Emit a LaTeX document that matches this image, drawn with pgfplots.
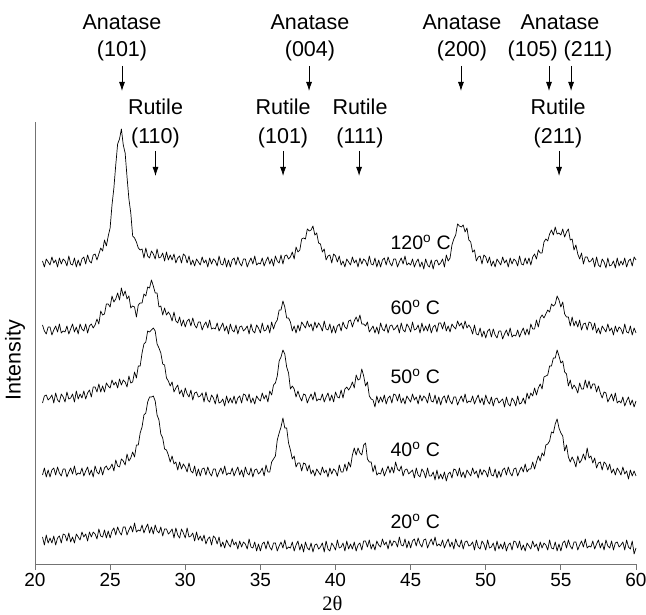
\documentclass[border=0pt]{standalone}
\usepackage{fontspec}
\setmainfont{Liberation Sans}
\newfontfamily\seriffont{Liberation Serif}
\usepackage{pgfplots}
\pgfplotsset{compat=1.18}
\usetikzlibrary{arrows.meta}

\newcommand{\lbl}{\fontsize{21.5}{25}\selectfont}
\newcommand{\tmp}{\fontsize{19.5}{23}\selectfont}
\newcommand{\tck}{\fontsize{19}{22}\selectfont}
\tikzset{pk/.style={-{Latex[length=9pt,width=6pt]}, line width=0.8pt}}
\pgfplotsset{trace/.style={black, mark=none, line width=0.7pt, line join=round}}

\begin{document}
\begin{tikzpicture}
\useasboundingbox (0,0) rectangle (646pt,615pt);
\begin{axis}[
    at={(35pt,51pt)}, anchor=south west,
    scale only axis, width=601pt, height=442pt,
    xmin=20, xmax=60, ymin=0, ymax=442,
    axis x line=bottom, axis y line=left,
    axis line style={-, black!55, line width=0.8pt},
    xtick={20,25,...,60}, ytick=\empty,
    tick align=outside, major tick length=6pt,
    tick style={black!55, line width=0.8pt},
    xticklabel style={font=\tck, /pgf/number format/assume math mode=true},
    clip=false,
]
% 120 C
\addplot[trace] coordinates {
(20.5,303)(20.625,297)(20.75,305)(20.875,302)
(21,299)(21.125,307)(21.25,301)(21.375,304)(21.5,297)(21.625,306)(21.75,300)(21.875,305)
(22,303)(22.125,298)(22.25,308)(22.375,300)(22.5,299)(22.625,306)(22.75,297)(22.875,304)
(23,298)(23.125,305)(23.25,307)(23.375,300)(23.5,309)(23.625,303)(23.75,301)(23.875,309)
(24,310)(24.125,304)(24.25,310)(24.375,316)(24.5,313)(24.625,324)(24.75,318)(24.875,328)
(25,336)(25.125,359)(25.25,376)(25.375,399)(25.5,420)(25.625,425)(25.75,435)(25.875,419)
(26,411)(26.125,387)(26.25,365)(26.375,351)(26.5,328)(26.625,326)(26.75,322)(26.875,316)
(27,314)(27.125,315)(27.25,306)(27.375,316)(27.5,308)(27.625,306)(27.75,313)(27.875,310)
(28,305)(28.125,315)(28.25,306)(28.375,307)(28.5,311)(28.625,303)(28.75,312)(28.875,304)
(29,309)(29.125,304)(29.25,310)(29.375,301)(29.5,306)(29.625,308)(29.75,301)(29.875,310)
(30,308)(30.125,301)(30.25,308)(30.375,299)(30.5,304)(30.625,298)(30.75,305)(30.875,302)
(31,299)(31.125,307)(31.25,301)(31.375,304)(31.5,297)(31.625,306)(31.75,300)(31.875,305)
(32,303)(32.125,298)(32.25,308)(32.375,300)(32.5,299)(32.625,306)(32.75,297)(32.875,304)
(33,297)(33.125,304)(33.25,306)(33.375,299)(33.5,307)(33.625,301)(33.75,298)(33.875,305)
(34,305)(34.125,297)(34.25,302)(34.375,306)(34.5,300)(34.625,308)(34.75,299)(34.875,301)
(35,300)(35.125,306)(35.25,298)(35.375,303)(35.5,307)(35.625,300)(35.75,305)(35.875,298)
(36,308)(36.125,303)(36.25,301)(36.375,309)(36.5,300)(36.625,308)(36.75,309)(36.875,305)
(37,307)(37.125,312)(37.25,305)(37.375,317)(37.5,312)(37.625,314)(37.75,325)(37.875,326)
(38,325)(38.125,335)(38.25,333)(38.375,334)(38.5,338)(38.625,329)(38.75,331)(38.875,321)
(39,320)(39.125,312)(39.25,315)(39.375,304)(39.5,308)(39.625,309)(39.75,301)(39.875,310)
(40,308)(40.125,302)(40.25,308)(40.375,299)(40.5,303)(40.625,297)(40.75,305)(40.875,302)
(41,299)(41.125,307)(41.25,301)(41.375,304)(41.5,297)(41.625,306)(41.75,300)(41.875,305)
(42,303)(42.125,298)(42.25,308)(42.375,300)(42.5,299)(42.625,306)(42.75,297)(42.875,304)
(43,297)(43.125,304)(43.25,306)(43.375,299)(43.5,307)(43.625,301)(43.75,298)(43.875,305)
(44,305)(44.125,297)(44.25,302)(44.375,306)(44.5,300)(44.625,308)(44.75,299)(44.875,301)
(45,299)(45.125,305)(45.25,297)(45.375,302)(45.5,305)(45.625,297)(45.75,302)(45.875,295)
(46,305)(46.125,299)(46.25,297)(46.375,304)(46.5,295)(46.625,303)(46.75,304)(46.875,299)
(47,301)(47.125,305)(47.25,297)(47.375,309)(47.5,303)(47.625,306)(47.75,319)(47.875,325)
(48,329)(48.125,340)(48.25,338)(48.375,337)(48.5,339)(48.625,332)(48.75,336)(48.875,324)
(49,322)(49.125,312)(49.25,314)(49.375,303)(49.5,307)(49.625,308)(49.75,300)(49.875,309)
(50,307)(50.125,301)(50.25,307)(50.375,298)(50.5,303)(50.625,297)(50.75,305)(50.875,302)
(51,299)(51.125,307)(51.25,301)(51.375,304)(51.5,297)(51.625,306)(51.75,300)(51.875,305)
(52,303)(52.125,298)(52.25,308)(52.375,300)(52.5,299)(52.625,306)(52.75,300)(52.875,306)
(53,299)(53.125,307)(53.25,310)(53.375,305)(53.5,314)(53.625,311)(53.75,311)(53.875,322)
(54,325)(54.125,323)(54.25,330)(54.375,334)(54.5,329)(54.625,337)(54.75,330)(54.875,331)
(55,329)(55.125,335)(55.25,327)(55.375,332)(55.5,335)(55.625,324)(55.75,325)(55.875,314)
(56,319)(56.125,310)(56.25,305)(56.375,311)(56.5,300)(56.625,307)(56.75,307)(56.875,302)
(57,303)(57.125,306)(57.25,297)(57.375,307)(57.5,299)(57.625,297)(57.75,305)(57.875,302)
(58,296)(58.125,306)(58.25,298)(58.375,299)(58.5,303)(58.625,296)(58.75,306)(58.875,298)
(59,303)(59.125,299)(59.25,306)(59.375,297)(59.5,303)(59.625,305)(59.75,298)(59.875,307)
(60,304)
};
% 60 C
\addplot[trace] coordinates {
(20.5,239)(20.625,233)(20.75,230)(20.875,237)
(21,237)(21.125,229)(21.25,234)(21.375,238)(21.5,232)(21.625,240)(21.75,231)(21.875,233)
(22,232)(22.125,238)(22.25,230)(22.375,235)(22.5,240)(22.625,232)(22.75,237)(22.875,230)
(23,240)(23.125,235)(23.25,233)(23.375,240)(23.5,231)(23.625,238)(23.75,240)(23.875,236)
(24,239)(24.125,245)(24.25,240)(24.375,253)(24.5,249)(24.625,250)(24.75,260)(24.875,260)
(25,257)(25.125,268)(25.25,262)(25.375,265)(25.5,271)(25.625,264)(25.75,276)(25.875,268)
(26,273)(26.125,265)(26.25,268)(26.375,256)(26.5,258)(26.625,257)(26.75,247)(26.875,259)
(27,261)(27.125,261)(27.25,270)(27.375,268)(27.5,277)(27.625,276)(27.75,284)(27.875,278)
(28,271)(28.125,271)(28.25,257)(28.375,258)(28.5,249)(28.625,256)(28.75,249)(28.875,252)
(29,249)(29.125,243)(29.25,252)(29.375,243)(29.5,241)(29.625,247)(29.75,238)(29.875,244)
(30,237)(30.125,243)(30.25,245)(30.375,238)(30.5,246)(30.625,239)(30.75,236)(30.875,242)
(31,242)(31.125,234)(31.25,239)(31.375,242)(31.5,236)(31.625,244)(31.75,235)(31.875,236)
(32,235)(32.125,241)(32.25,233)(32.375,237)(32.5,241)(32.625,233)(32.75,238)(32.875,230)
(33,240)(33.125,234)(33.25,232)(33.375,239)(33.5,230)(33.625,237)(33.75,238)(33.875,233)
(34,235)(34.125,238)(34.25,230)(34.375,240)(34.5,233)(34.625,231)(34.75,239)(34.875,236)
(35,231)(35.125,241)(35.25,233)(35.375,234)(35.5,239)(35.625,231)(35.75,242)(35.875,235)
(36,241)(36.125,244)(36.25,254)(36.375,254)(36.5,263)(36.625,257)(36.75,246)(36.875,246)
(37,242)(37.125,233)(37.25,238)(37.375,231)(37.5,239)(37.625,233)(37.75,242)(37.875,239)
(38,236)(38.125,243)(38.25,237)(38.375,240)(38.5,233)(38.625,242)(38.75,236)(38.875,241)
(39,238)(39.125,233)(39.25,243)(39.375,235)(39.5,234)(39.625,240)(39.75,231)(39.875,238)
(40,231)(40.125,238)(40.25,240)(40.375,233)(40.5,242)(40.625,237)(40.75,235)(40.875,243)
(41,244)(41.125,237)(41.25,243)(41.375,247)(41.5,242)(41.625,249)(41.75,240)(41.875,240)
(42,238)(42.125,242)(42.25,232)(42.375,235)(42.5,238)(42.625,231)(42.75,237)(42.875,230)
(43,241)(43.125,235)(43.25,233)(43.375,240)(43.5,231)(43.625,238)(43.75,239)(43.875,234)
(44,236)(44.125,239)(44.25,231)(44.375,241)(44.5,234)(44.625,232)(44.75,240)(44.875,237)
(45,232)(45.125,242)(45.25,234)(45.375,235)(45.5,239)(45.625,231)(45.75,241)(45.875,233)
(46,238)(46.125,233)(46.25,240)(46.375,231)(46.5,237)(46.625,239)(46.75,232)(46.875,241)
(47,241)(47.125,235)(47.25,242)(47.375,233)(47.5,238)(47.625,232)(47.75,240)(47.875,237)
(48,235)(48.125,243)(48.25,238)(48.375,241)(48.5,235)(48.625,243)(48.75,236)(48.875,239)
(49,236)(49.125,230)(49.25,239)(49.375,230)(49.5,229)(49.625,236)(49.75,227)(49.875,233)
(50,226)(50.125,233)(50.25,235)(50.375,227)(50.5,235)(50.625,229)(50.75,226)(50.875,233)
(51,233)(51.125,225)(51.25,230)(51.375,234)(51.5,228)(51.625,236)(51.75,227)(51.875,229)
(52,228)(52.125,234)(52.25,227)(52.375,232)(52.5,236)(52.625,229)(52.75,235)(52.875,229)
(53,240)(53.125,235)(53.25,235)(53.375,244)(53.5,237)(53.625,246)(53.75,249)(53.875,246)
(54,250)(54.125,254)(54.25,252)(54.375,260)(54.5,258)(54.625,260)(54.75,268)(54.875,264)
(55,257)(55.125,262)(55.25,250)(55.375,247)(55.5,247)(55.625,238)(55.75,247)(55.875,238)
(56,243)(56.125,237)(56.25,244)(56.375,234)(56.5,240)(56.625,241)(56.75,234)(56.875,242)
(57,241)(57.125,234)(57.25,241)(57.375,231)(57.5,236)(57.625,230)(57.75,238)(57.875,235)
(58,232)(58.125,240)(58.25,233)(58.375,236)(58.5,229)(58.625,238)(58.75,232)(58.875,237)
(59,235)(59.125,230)(59.25,240)(59.375,232)(59.5,231)(59.625,238)(59.75,229)(59.875,236)
(60,231)
};
% 50 C
\addplot[trace] coordinates {
(20.5,161)(20.625,168)(20.75,169)(20.875,164)
(21,166)(21.125,169)(21.25,161)(21.375,171)(21.5,164)(21.625,162)(21.75,170)(21.875,167)
(22,162)(22.125,172)(22.25,165)(22.375,166)(22.5,170)(22.625,162)(22.75,173)(22.875,165)
(23,170)(23.125,166)(23.25,173)(23.375,165)(23.5,171)(23.625,174)(23.75,167)(23.875,177)
(24,177)(24.125,172)(24.25,180)(24.375,172)(24.5,178)(24.625,172)(24.75,181)(24.875,178)
(25,176)(25.125,184)(25.25,179)(25.375,182)(25.5,176)(25.625,185)(25.75,179)(25.875,184)
(26,182)(26.125,177)(26.25,188)(26.375,181)(26.5,182)(26.625,192)(26.75,186)(26.875,198)
(27,198)(27.125,211)(27.25,220)(27.375,222)(27.5,233)(27.625,232)(27.75,234)(27.875,236)
(28,233)(28.125,220)(28.25,216)(28.375,211)(28.5,200)(28.625,199)(28.75,186)(28.875,183)
(29,178)(29.125,182)(29.25,172)(29.375,176)(29.5,179)(29.625,170)(29.75,174)(29.875,167)
(30,176)(30.125,170)(30.25,167)(30.375,174)(30.5,164)(30.625,171)(30.75,172)(30.875,167)
(31,168)(31.125,171)(31.25,162)(31.375,172)(31.5,164)(31.625,162)(31.75,169)(31.875,166)
(32,160)(32.125,170)(32.25,161)(32.375,162)(32.5,165)(32.625,158)(32.75,168)(32.875,161)
(33,166)(33.125,161)(33.25,168)(33.375,160)(33.5,166)(33.625,168)(33.75,161)(33.875,170)
(34,169)(34.125,163)(34.25,170)(34.375,161)(34.5,166)(34.625,160)(34.75,168)(34.875,165)
(35,163)(35.125,171)(35.25,165)(35.375,169)(35.5,162)(35.625,173)(35.75,169)(35.875,179)
(36,181)(36.125,188)(36.25,203)(36.375,207)(36.5,214)(36.625,210)(36.75,197)(36.875,191)
(37,175)(37.125,178)(37.25,175)(37.375,167)(37.5,173)(37.625,167)(37.75,163)(37.875,170)
(38,169)(38.125,161)(38.25,166)(38.375,170)(38.5,164)(38.625,172)(38.75,163)(38.875,165)
(39,164)(39.125,170)(39.25,162)(39.375,167)(39.5,171)(39.625,163)(39.75,169)(39.875,162)
(40,172)(40.125,167)(40.25,166)(40.375,174)(40.5,166)(40.625,175)(40.75,177)(40.875,174)
(41,177)(41.125,182)(41.25,176)(41.375,189)(41.5,184)(41.625,185)(41.75,195)(41.875,188)
(42,178)(42.125,182)(42.25,168)(42.375,165)(42.5,164)(42.625,157)(42.75,168)(42.875,161)
(43,167)(43.125,162)(43.25,169)(43.375,160)(43.5,166)(43.625,168)(43.75,161)(43.875,170)
(44,169)(44.125,163)(44.25,170)(44.375,161)(44.5,166)(44.625,160)(44.75,168)(44.875,165)
(45,162)(45.125,170)(45.25,164)(45.375,167)(45.5,160)(45.625,169)(45.75,163)(45.875,168)
(46,166)(46.125,161)(46.25,171)(46.375,163)(46.5,162)(46.625,169)(46.75,160)(46.875,167)
(47,159)(47.125,166)(47.25,168)(47.375,161)(47.5,169)(47.625,163)(47.75,160)(47.875,167)
(48,167)(48.125,159)(48.25,164)(48.375,168)(48.5,162)(48.625,170)(48.75,161)(48.875,163)
(49,162)(49.125,168)(49.25,160)(49.375,165)(49.5,169)(49.625,161)(49.75,166)(49.875,159)
(50,169)(50.125,163)(50.25,160)(50.375,167)(50.5,158)(50.625,165)(50.75,166)(50.875,161)
(51,163)(51.125,165)(51.25,157)(51.375,167)(51.5,160)(51.625,158)(51.75,166)(51.875,163)
(52,158)(52.125,168)(52.25,160)(52.375,161)(52.5,166)(52.625,160)(52.75,171)(52.875,165)
(53,171)(53.125,168)(53.25,176)(53.375,169)(53.5,176)(53.625,180)(53.75,175)(53.875,187)
(54,188)(54.125,189)(54.25,198)(54.375,198)(54.5,206)(54.625,206)(54.75,214)(54.875,208)
(55,201)(55.125,203)(55.25,192)(55.375,190)(55.5,178)(55.625,184)(55.75,175)(55.875,179)
(56,176)(56.125,171)(56.25,181)(56.375,175)(56.5,175)(56.625,184)(56.75,176)(56.875,183)
(57,175)(57.125,180)(57.25,180)(57.375,172)(57.5,178)(57.625,171)(57.75,166)(57.875,172)
(58,171)(58.125,162)(58.25,166)(58.375,170)(58.5,163)(58.625,171)(58.75,161)(58.875,163)
(59,161)(59.125,167)(59.25,158)(59.375,163)(59.5,167)(59.625,159)(59.75,164)(59.875,157)
(60,163)
};
% 40 C
\addplot[trace] coordinates {
(20.5,89)(20.625,96)(20.75,87)(20.875,94)
(21,87)(21.125,94)(21.25,96)(21.375,89)(21.5,97)(21.625,91)(21.75,88)(21.875,95)
(22,95)(22.125,87)(22.25,92)(22.375,96)(22.5,90)(22.625,98)(22.75,89)(22.875,91)
(23,90)(23.125,96)(23.25,88)(23.375,93)(23.5,97)(23.625,89)(23.75,94)(23.875,87)
(24,98)(24.125,92)(24.25,90)(24.375,97)(24.5,89)(24.625,96)(24.75,98)(24.875,94)
(25,96)(25.125,100)(25.25,93)(25.375,104)(25.5,98)(25.625,97)(25.75,105)(25.875,103)
(26,99)(26.125,110)(26.25,103)(26.375,106)(26.5,112)(26.625,107)(26.75,119)(26.875,119)
(27,131)(27.125,137)(27.25,149)(27.375,151)(27.5,162)(27.625,167)(27.75,167)(27.875,168)
(28,163)(28.125,149)(28.25,144)(28.375,130)(28.5,126)(28.625,115)(28.75,114)(28.875,109)
(29,102)(29.125,108)(29.25,100)(29.375,102)(29.5,94)(29.625,102)(29.75,95)(29.875,100)
(30,97)(30.125,92)(30.25,101)(30.375,93)(30.5,91)(30.625,98)(30.75,88)(30.875,95)
(31,88)(31.125,95)(31.25,96)(31.375,89)(31.5,97)(31.625,91)(31.75,88)(31.875,95)
(32,95)(32.125,87)(32.25,92)(32.375,96)(32.5,90)(32.625,98)(32.75,89)(32.875,91)
(33,90)(33.125,96)(33.25,88)(33.375,93)(33.5,97)(33.625,89)(33.75,94)(33.875,87)
(34,97)(34.125,91)(34.25,89)(34.375,96)(34.5,87)(34.625,94)(34.75,95)(34.875,90)
(35,92)(35.125,96)(35.25,88)(35.375,99)(35.5,92)(35.625,92)(35.75,102)(35.875,105)
(36,108)(36.125,124)(36.25,131)(36.375,137)(36.5,146)(36.625,136)(36.75,136)(36.875,121)
(37,114)(37.125,105)(37.25,108)(37.375,97)(37.5,101)(37.625,101)(37.75,93)(37.875,101)
(38,100)(38.125,93)(38.25,99)(38.375,90)(38.5,94)(38.625,88)(38.75,95)(38.875,92)
(39,89)(39.125,97)(39.25,91)(39.375,94)(39.5,87)(39.625,96)(39.75,90)(39.875,95)
(40,93)(40.125,88)(40.25,99)(40.375,92)(40.5,92)(40.625,100)(40.75,93)(40.875,102)
(41,97)(41.125,109)(41.25,116)(41.375,109)(41.5,116)(41.625,111)(41.75,109)(41.875,119)
(42,121)(42.125,105)(42.25,102)(42.375,102)(42.5,92)(42.625,99)(42.75,89)(42.875,91)
(43,90)(43.125,96)(43.25,88)(43.375,93)(43.5,98)(43.625,91)(43.75,97)(43.875,91)
(44,102)(44.125,95)(44.25,93)(44.375,98)(44.5,88)(44.625,94)(44.75,95)(44.875,90)
(45,92)(45.125,94)(45.25,86)(45.375,96)(45.5,89)(45.625,87)(45.75,95)(45.875,92)
(46,86)(46.125,96)(46.25,88)(46.375,88)(46.5,92)(46.625,84)(46.75,94)(46.875,85)
(47,90)(47.125,85)(47.25,92)(47.375,83)(47.5,90)(47.625,92)(47.75,86)(47.875,95)
(48,94)(48.125,88)(48.25,96)(48.375,87)(48.5,92)(48.625,86)(48.75,94)(48.875,91)
(49,88)(49.125,96)(49.25,90)(49.375,93)(49.5,86)(49.625,95)(49.75,89)(49.875,94)
(50,92)(50.125,87)(50.25,97)(50.375,89)(50.5,88)(50.625,95)(50.75,86)(50.875,93)
(51,87)(51.125,94)(51.25,96)(51.375,89)(51.5,97)(51.625,91)(51.75,88)(51.875,95)
(52,96)(52.125,88)(52.25,93)(52.375,97)(52.5,92)(52.625,100)(52.75,92)(52.875,95)
(53,95)(53.125,102)(53.25,95)(53.375,102)(53.5,108)(53.625,103)(53.75,111)(53.875,108)
(54,119)(54.125,120)(54.25,123)(54.375,132)(54.5,131)(54.625,140)(54.75,145)(54.875,136)
(55,131)(55.125,128)(55.25,113)(55.375,119)(55.5,107)(55.625,102)(55.75,107)(55.875,103)
(56,97)(56.125,108)(56.25,101)(56.375,104)(56.5,110)(56.625,104)(56.75,116)(56.875,106)
(57,108)(57.125,101)(57.25,106)(57.375,96)(57.5,101)(57.625,102)(57.75,94)(57.875,102)
(58,100)(58.125,94)(58.25,100)(58.375,91)(58.5,95)(58.625,89)(58.75,96)(58.875,93)
(59,89)(59.125,97)(59.25,90)(59.375,93)(59.5,85)(59.625,94)(59.75,88)(59.875,93)
(60,88)
};
% 20 C
\addplot[trace] coordinates {
(20.5,27)(20.625,19)(20.75,29)(20.875,21)
(21,26)(21.125,21)(21.25,28)(21.375,19)(21.5,26)(21.625,28)(21.75,21)(21.875,30)
(22,29)(22.125,23)(22.25,31)(22.375,22)(22.5,27)(22.625,21)(22.75,30)(22.875,27)
(23,24)(23.125,32)(23.25,27)(23.375,30)(23.5,23)(23.625,32)(23.75,27)(23.875,32)
(24,30)(24.125,25)(24.25,35)(24.375,28)(24.5,27)(24.625,34)(24.75,26)(24.875,33)
(25,26)(25.125,33)(25.25,36)(25.375,29)(25.5,37)(25.625,32)(25.75,29)(25.875,37)
(26,37)(26.125,29)(26.25,34)(26.375,38)(26.5,32)(26.625,41)(26.75,32)(26.875,34)
(27,33)(27.125,39)(27.25,31)(27.375,36)(27.5,40)(27.625,31)(27.75,37)(27.875,30)
(28,39)(28.125,33)(28.25,31)(28.375,37)(28.5,28)(28.625,35)(28.75,35)(28.875,30)
(29,32)(29.125,35)(29.25,26)(29.375,36)(29.5,29)(29.625,26)(29.75,35)(29.875,31)
(30,26)(30.125,36)(30.25,27)(30.375,28)(30.5,31)(30.625,23)(30.75,32)(30.875,24)
(31,28)(31.125,23)(31.25,29)(31.375,20)(31.5,25)(31.625,27)(31.75,19)(31.875,28)
(32,26)(32.125,20)(32.25,27)(32.375,17)(32.5,22)(32.625,16)(32.75,24)(32.875,20)
(33,17)(33.125,25)(33.25,19)(33.375,22)(33.5,15)(33.625,23)(33.75,17)(33.875,22)
(34,20)(34.125,15)(34.25,25)(34.375,17)(34.5,16)(34.625,22)(34.75,13)(34.875,20)
(35,13)(35.125,20)(35.25,22)(35.375,15)(35.5,23)(35.625,17)(35.75,14)(35.875,21)
(36,21)(36.125,13)(36.25,18)(36.375,22)(36.5,16)(36.625,24)(36.75,15)(36.875,17)
(37,16)(37.125,22)(37.25,13)(37.375,19)(37.5,23)(37.625,14)(37.75,20)(37.875,12)
(38,22)(38.125,16)(38.25,14)(38.375,21)(38.5,12)(38.625,19)(38.75,20)(38.875,15)
(39,17)(39.125,21)(39.25,12)(39.375,23)(39.5,15)(39.625,13)(39.75,21)(39.875,18)
(40,14)(40.125,24)(40.25,16)(40.375,17)(40.5,21)(40.625,13)(40.75,23)(40.875,15)
(41,20)(41.125,15)(41.25,22)(41.375,13)(41.5,19)(41.625,21)(41.75,14)(41.875,23)
(42,23)(42.125,17)(42.25,24)(42.375,15)(42.5,20)(42.625,14)(42.75,23)(42.875,19)
(43,17)(43.125,25)(43.25,19)(43.375,22)(43.5,15)(43.625,24)(43.75,18)(43.875,23)
(44,22)(44.125,17)(44.25,27)(44.375,19)(44.5,18)(44.625,25)(44.75,16)(44.875,23)
(45,16)(45.125,23)(45.25,25)(45.375,18)(45.5,26)(45.625,20)(45.75,17)(45.875,24)
(46,25)(46.125,16)(46.25,21)(46.375,25)(46.5,19)(46.625,27)(46.75,18)(46.875,20)
(47,18)(47.125,24)(47.25,16)(47.375,21)(47.5,25)(47.625,17)(47.75,22)(47.875,15)
(48,25)(48.125,19)(48.25,17)(48.375,24)(48.5,15)(48.625,22)(48.75,23)(48.875,18)
(49,19)(49.125,22)(49.25,14)(49.375,24)(49.5,17)(49.625,15)(49.75,23)(49.875,20)
(50,14)(50.125,24)(50.25,16)(50.375,17)(50.5,21)(50.625,13)(50.75,23)(50.875,15)
(51,20)(51.125,15)(51.25,22)(51.375,13)(51.5,19)(51.625,21)(51.75,14)(51.875,23)
(52,22)(52.125,16)(52.25,23)(52.375,14)(52.5,19)(52.625,13)(52.75,21)(52.875,18)
(53,15)(53.125,23)(53.25,17)(53.375,20)(53.5,13)(53.625,22)(53.75,16)(53.875,21)
(54,19)(54.125,14)(54.25,24)(54.375,16)(54.5,15)(54.625,22)(54.75,13)(54.875,20)
(55,13)(55.125,21)(55.25,23)(55.375,16)(55.5,24)(55.625,18)(55.75,15)(55.875,22)
(56,22)(56.125,14)(56.25,19)(56.375,23)(56.5,17)(56.625,25)(56.75,16)(56.875,18)
(57,17)(57.125,23)(57.25,15)(57.375,20)(57.5,24)(57.625,16)(57.75,21)(57.875,14)
(58,24)(58.125,18)(58.25,16)(58.375,23)(58.5,14)(58.625,21)(58.75,22)(58.875,17)
(59,19)(59.125,22)(59.25,14)(59.375,24)(59.5,17)(59.625,15)(59.75,23)(59.875,10)
(60,16)
};

% temperature labels
\node[font=\tmp, anchor=base west] at (axis cs:43.43,314) {120\textsuperscript{o} C};
\node[font=\tmp, anchor=base west] at (axis cs:43.43,249) {60\textsuperscript{o} C};
\node[font=\tmp, anchor=base west] at (axis cs:43.43,180) {50\textsuperscript{o} C};
\node[font=\tmp, anchor=base west] at (axis cs:43.43,107) {40\textsuperscript{o} C};
\node[font=\tmp, anchor=base west] at (axis cs:43.43,35) {20\textsuperscript{o} C};

% peak annotations, top row
\node[font=\lbl, anchor=base] at (axis cs:25.79,534) {Anatase};
\node[font=\lbl, anchor=base] at (axis cs:25.79,507) {(101)};
\draw[pk] (axis cs:25.79,498) -- (axis cs:25.79,473);
\node[font=\lbl, anchor=base] at (axis cs:38.30,534) {Anatase};
\node[font=\lbl, anchor=base] at (axis cs:38.30,507) {(004)};
\draw[pk] (axis cs:38.24,498) -- (axis cs:38.24,473);
\node[font=\lbl, anchor=base] at (axis cs:48.42,534) {Anatase};
\node[font=\lbl, anchor=base] at (axis cs:48.42,507) {(200)};
\draw[pk] (axis cs:48.35,498) -- (axis cs:48.35,473);
\node[font=\lbl, anchor=base] at (axis cs:54.94,534) {Anatase};
\node[font=\lbl, anchor=base] at (axis cs:54.94,507) {(105) (211)};
\draw[pk] (axis cs:54.21,498) -- (axis cs:54.21,473);
\draw[pk] (axis cs:55.68,498) -- (axis cs:55.68,473);

% second row
\node[font=\lbl, anchor=base] at (axis cs:28.02,449) {Rutile};
\node[font=\lbl, anchor=base] at (axis cs:28.02,420) {(110)};
\draw[pk] (axis cs:28.02,413) -- (axis cs:28.02,388);
\node[font=\lbl, anchor=base] at (axis cs:36.51,449) {Rutile};
\node[font=\lbl, anchor=base] at (axis cs:36.51,420) {(101)};
\draw[pk] (axis cs:36.51,413) -- (axis cs:36.51,388);
\node[font=\lbl, anchor=base] at (axis cs:41.63,449) {Rutile};
\node[font=\lbl, anchor=base] at (axis cs:41.63,420) {(111)};
\draw[pk] (axis cs:41.57,413) -- (axis cs:41.57,388);
\node[font=\lbl, anchor=base] at (axis cs:54.81,449) {Rutile};
\node[font=\lbl, anchor=base] at (axis cs:54.81,420) {(211)};
\draw[pk] (axis cs:54.88,413) -- (axis cs:54.88,388);

% axis titles
\node[font=\lbl, rotate=90] at (axis cs:18.67,204) {Intensity};
\node[font={\seriffont\fontsize{20.5}{24}\selectfont}] at (axis cs:39.8,-39) {2θ};
\end{axis}
\end{tikzpicture}
\end{document}
